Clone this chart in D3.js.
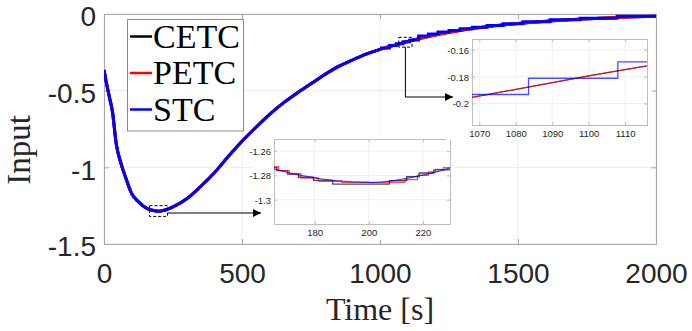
<!DOCTYPE html>
<html>
<head>
<meta charset="utf-8">
<script src="https://cdn.jsdelivr.net/npm/d3@7"></script>
<style>
  body { margin: 0; background: #fff; }
  svg { display: block; }
</style>
</head>
<body>
<div id="chart"></div>
<script>
// control input over time, CETC / PETC / STC almost on top of each other
const timeMain = [0, 10, 20, 30, 45, 60, 80, 100, 125, 150, 175, 200, 225, 250, 300, 350, 400, 450, 500,
  550, 600, 650, 700, 750, 800, 850, 900, 950, 1000, 1050, 1100, 1200, 1300, 1400, 1500, 1600, 1700, 1800, 1900, 2000];
const inputMain = [-0.365, -0.46, -0.545, -0.63, -0.855, -0.965, -1.075, -1.17, -1.225, -1.262, -1.280, -1.2858, -1.277, -1.258, -1.205, -1.125, -1.035, -0.93, -0.83,
  -0.74, -0.655, -0.58, -0.515, -0.455, -0.395, -0.342, -0.300, -0.262, -0.231, -0.2045, -0.1795, -0.137, -0.104, -0.080, -0.062, -0.048, -0.036, -0.027, -0.020, -0.014];

// STC held values in the tail (visible steps)
const stcTailTime = [1000, 1034, 1059, 1083.5, 1108, 1140, 1175, 1210, 1250, 1290, 1335, 1388, 1446, 1518, 1616, 1725, 1859, 2000];
const stcTailInput = [-0.222, -0.205, -0.1933, -0.1812, -0.169, -0.143, -0.130, -0.118, -0.108, -0.097, -0.086, -0.075, -0.063, -0.050, -0.037, -0.027, -0.015, -0.012];

// zoom near the minimum
const cetcZoomTime = [165, 166, 170, 174, 179.6, 186.7, 207.6, 214, 218.6, 224, 230];
const cetcZoomInput = [-1.2735, -1.2760, -1.2790, -1.2815, -1.2840, -1.2872, -1.2843, -1.2810, -1.2780, -1.2755, -1.2755];
const petcZoomTime = [165, 166.7, 170.6, 174.9, 181.4, 190, 200, 207, 213.3, 218, 222, 224.7, 227.6, 230];
const petcZoomInput = [-1.2728, -1.2760, -1.2786, -1.2821, -1.2848, -1.2858, -1.2860, -1.2856, -1.2834, -1.2800, -1.2770, -1.2750, -1.2735, -1.2735];

const xTicks = [0, 500, 1000, 1500, 2000];
const yTicks = [0, -0.5, -1, -1.5];
const zoomAXTicks = [180, 200, 220];
const zoomAYTicks = [-1.26, -1.28, -1.3];
const zoomBXTicks = [1070, 1080, 1090, 1100, 1110];
const zoomBYTicks = [-0.16, -0.18, -0.2];
const zoomADomainX = [165, 230], zoomADomainY = [-1.32, -1.25];
const zoomBDomainX = [1068, 1116], zoomBDomainY = [-0.216, -0.152];

const seriesNames = ['CETC', 'PETC', 'STC'];
const seriesColors = ['#000000', '#ff0000', '#0000ff'];

const W = 692, H = 331;
const svg = d3.select('#chart').append('svg').attr('width', W).attr('height', H);

const defs = svg.append('defs');
defs.append('marker').attr('id', 'arrow')
  .attr('viewBox', '0 0 10 10').attr('refX', 10).attr('refY', 5)
  .attr('markerWidth', 13).attr('markerHeight', 8).attr('markerUnits', 'userSpaceOnUse')
  .attr('orient', 'auto')
  .append('path').attr('d', 'M0,0L10,5L0,10z').attr('fill', '#000');

function clip(id, x0, y0, x1, y1) {
  defs.append('clipPath').attr('id', id).append('rect')
    .attr('x', x0).attr('y', y0).attr('width', x1 - x0).attr('height', y1 - y0);
  return 'url(#' + id + ')';
}

// draws grid, box, ticks and tick labels for one set of axes
function drawFrame(g, xs, ys, xt, yt, o) {
  const [l, r] = xs.range(), [b, t] = ys.range();
  g.append('rect').attr('x', l).attr('y', t).attr('width', r - l).attr('height', b - t).attr('fill', '#fff');
  g.append('g').selectAll('line').data(xt).join('line')
    .attr('x1', d => xs(d)).attr('x2', d => xs(d)).attr('y1', t).attr('y2', b)
    .attr('stroke', o.grid).attr('stroke-width', 1);
  g.append('g').selectAll('line').data(yt).join('line')
    .attr('y1', d => ys(d)).attr('y2', d => ys(d)).attr('x1', l).attr('x2', r)
    .attr('stroke', o.grid).attr('stroke-width', 1);

  const fmt = d => String(d);
  const ax = [
    g.append('g').attr('transform', 'translate(0,' + b + ')')
      .call(d3.axisBottom(xs).tickValues(xt).tickSize(-o.tick).tickPadding(o.padX).tickFormat(fmt)),
    g.append('g').attr('transform', 'translate(' + l + ',0)')
      .call(d3.axisLeft(ys).tickValues(yt).tickSize(-o.tick).tickPadding(o.padY).tickFormat(fmt)),
    g.append('g').attr('transform', 'translate(0,' + t + ')')
      .call(d3.axisTop(xs).tickValues(xt).tickSize(-o.tick).tickFormat('')),
    g.append('g').attr('transform', 'translate(' + r + ',0)')
      .call(d3.axisRight(ys).tickValues(yt).tickSize(-o.tick).tickFormat(''))
  ];
  ax.forEach(a => {
    a.select('.domain').attr('stroke', o.box);
    a.selectAll('.tick line').attr('stroke', o.box);
    a.selectAll('text').attr('fill', '#262626')
      .style('font-family', 'Liberation Sans, Arial, sans-serif').style('font-size', o.font + 'px');
  });
  ax[1].selectAll('text').attr('dy', o.dyY);
}

const lineMain = (xs, ys, curve) => d3.line().x(d => xs(d[0])).y(d => ys(d[1])).curve(curve);
const mainPts = timeMain.map((t, i) => [t, inputMain[i]]);
const stcPts = stcTailTime.map((t, i) => [t, stcTailInput[i]]);

// ---------- main axes
const x = d3.scaleLinear().domain([0, 2000]).range([104, 656]);
const y = d3.scaleLinear().domain([-1.5, 0]).range([244, 14]);
const main = svg.append('g');
drawFrame(main, x, y, xTicks, yTicks, { grid: '#ebebeb', box: '#a6a6a6', tick: 5, padX: 19, padY: 8, font: 28, dyY: '0.42em' });

const mainClip = clip('clipMain', 104, 10, 656, 244);
const mainLines = main.append('g').attr('clip-path', mainClip);
mainLines.append('path').attr('d', lineMain(x, y, d3.curveMonotoneX)(mainPts))
  .attr('fill', 'none').attr('stroke', seriesColors[0]).attr('stroke-width', 3);
mainLines.append('path').attr('d', lineMain(x, y, d3.curveMonotoneX)(mainPts))
  .attr('fill', 'none').attr('stroke', seriesColors[1]).attr('stroke-width', 3);
mainLines.append('path').attr('d', lineMain(x, y, d3.curveMonotoneX)(mainPts.filter(d => d[0] <= 1000)))
  .attr('fill', 'none').attr('stroke', seriesColors[2]).attr('stroke-width', 3);
mainLines.append('path').attr('d', lineMain(x, y, d3.curveStepAfter)(stcPts))
  .attr('fill', 'none').attr('stroke', seriesColors[2]).attr('stroke-width', 3);

// dashed boxes marking the zoomed windows
[[zoomADomainX, zoomADomainY], [zoomBDomainX, zoomBDomainY]].forEach(([dx, dy]) => {
  main.append('rect')
    .attr('x', x(dx[0])).attr('y', y(dy[1]))
    .attr('width', x(dx[1]) - x(dx[0])).attr('height', y(dy[0]) - y(dy[1]))
    .attr('fill', 'none').attr('stroke', '#000').attr('stroke-width', 1).attr('stroke-dasharray', '3,2');
});

// legend
const leg = svg.append('g');
leg.append('rect').attr('x', 127.5).attr('y', 19.5).attr('width', 116).attr('height', 111.5)
  .attr('fill', '#fff').attr('stroke', '#8c8c8c').attr('stroke-width', 1);
seriesNames.forEach((name, i) => {
  const cy = 36.5 + i * 36.5;
  leg.append('line').attr('x1', 130).attr('x2', 152).attr('y1', cy).attr('y2', cy)
    .attr('stroke', seriesColors[i]).attr('stroke-width', 2.5);
  leg.append('text').attr('x', 153).attr('y', cy + 11.3).text(name)
    .style('font-family', 'Liberation Serif, Times New Roman, serif').style('font-size', '34px').attr('fill', '#000');
});

// axis titles
svg.append('text').attr('x', 380).attr('y', 320).attr('text-anchor', 'middle').text('Time [s]')
  .style('font-family', 'Liberation Serif, Times New Roman, serif').style('font-size', '32px').attr('fill', '#262626');
svg.append('text').attr('transform', 'translate(30,150) rotate(-90)').attr('text-anchor', 'middle').text('Input')
  .style('font-family', 'Liberation Serif, Times New Roman, serif').style('font-size', '33px').attr('fill', '#262626');

// ---------- zoom A (around the minimum)
svg.append('rect').attr('x', 253).attr('y', 136).attr('width', 202).attr('height', 104).attr('fill', '#fff');
const xa = d3.scaleLinear().domain(zoomADomainX).range([274, 450]);
const ya = d3.scaleLinear().domain(zoomADomainY).range([224, 139]);
const za = svg.append('g');
drawFrame(za, xa, ya, zoomAXTicks, zoomAYTicks, { grid: '#f0f0f0', box: '#bdbdbd', tick: 3, padX: 5, padY: 3, font: 9.5, dyY: '0.36em' });
const zaLines = za.append('g').attr('clip-path', clip('clipA', 274, 139, 450, 224));
zaLines.append('path').attr('d', lineMain(xa, ya, d3.curveStepAfter)(cetcZoomTime.map((t, i) => [t, cetcZoomInput[i]])))
  .attr('fill', 'none').attr('stroke', seriesColors[0]).attr('stroke-opacity', 0.7).attr('stroke-width', 1.3);
zaLines.append('path').attr('d', lineMain(xa, ya, d3.curveStepAfter)(petcZoomTime.map((t, i) => [t, petcZoomInput[i]])))
  .attr('fill', 'none').attr('stroke', seriesColors[1]).attr('stroke-opacity', 0.7).attr('stroke-width', 1.3);
zaLines.append('path').attr('d', lineMain(xa, ya, d3.curveMonotoneX)(mainPts))
  .attr('fill', 'none').attr('stroke', seriesColors[2]).attr('stroke-opacity', 0.7).attr('stroke-width', 1.3);

// ---------- zoom B (tail)
svg.append('rect').attr('x', 446).attr('y', 35).attr('width', 206).attr('height', 105).attr('fill', '#fff');
const xb = d3.scaleLinear().domain(zoomBDomainX).range([472, 647]);
const yb = d3.scaleLinear().domain(zoomBDomainY).range([125, 39]);
const zb = svg.append('g');
drawFrame(zb, xb, yb, zoomBXTicks, zoomBYTicks, { grid: '#f0f0f0', box: '#bdbdbd', tick: 3, padX: 5, padY: 3, font: 9.5, dyY: '0.36em' });
const zbLines = zb.append('g').attr('clip-path', clip('clipB', 472, 39, 647, 125));
zbLines.append('path').attr('d', lineMain(xb, yb, d3.curveMonotoneX)(mainPts))
  .attr('fill', 'none').attr('stroke', seriesColors[0]).attr('stroke-opacity', 0.7).attr('stroke-width', 1.3);
zbLines.append('path').attr('d', lineMain(xb, yb, d3.curveMonotoneX)(mainPts))
  .attr('fill', 'none').attr('stroke', seriesColors[1]).attr('stroke-opacity', 0.7).attr('stroke-width', 1.3);
zbLines.append('path').attr('d', lineMain(xb, yb, d3.curveStepAfter)(stcPts))
  .attr('fill', 'none').attr('stroke', seriesColors[2]).attr('stroke-opacity', 0.7).attr('stroke-width', 1.3);

// ---------- arrows from the dashed boxes to the zooms
const arrowA = [[x(zoomADomainX[1]), 213], [261, 213]];
const arrowB = [[x((zoomBDomainX[0] + zoomBDomainX[1]) / 2), y(zoomBDomainY[0])], [x((zoomBDomainX[0] + zoomBDomainX[1]) / 2), 97], [453, 97]];
[arrowA, arrowB].forEach(pts => {
  svg.append('path').attr('d', d3.line()(pts))
    .attr('fill', 'none').attr('stroke', '#000').attr('stroke-width', 1).attr('marker-end', 'url(#arrow)');
});
</script>
</body>
</html>
